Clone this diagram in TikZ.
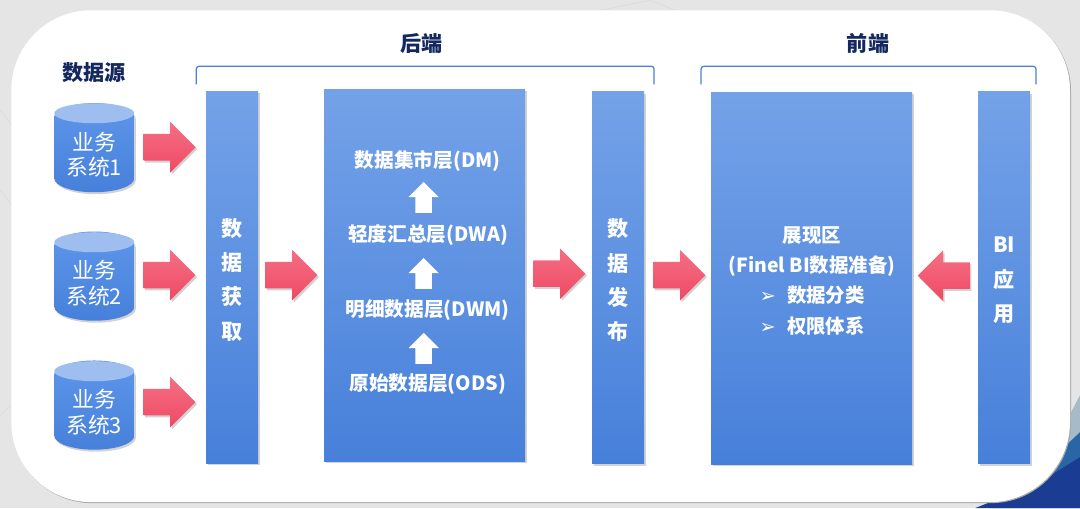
\documentclass[tikz,border=0pt]{standalone}
\usepackage{fontspec}
\usepackage{xcolor}
\usepackage{tikz}
\usetikzlibrary{shapes.geometric,shapes.arrows,shadows}
\setmainfont{Noto Sans CJK SC}
\newfontfamily\dingfont{DejaVu Sans}

\definecolor{boxtop}{HTML}{74A2E8}
\definecolor{boxmid}{HTML}{5D96EA}
\definecolor{boxlow}{HTML}{4780DA}
\definecolor{arrowtop}{HTML}{F56F85}
\definecolor{arrowlow}{HTML}{EE4A63}
\definecolor{navy}{HTML}{14285F}
\definecolor{bracket}{HTML}{4A7FDC}
\definecolor{cornerlight}{HTML}{A5BBC8}
\definecolor{cornermid}{HTML}{2A66A6}
\definecolor{cornerdark}{HTML}{1A3C92}

\tikzset{
  softshadow/.style={drop shadow={shadow xshift=0.4mm,shadow yshift=-0.5mm,opacity=0.35}},
  bluebox/.style={rectangle,top color=boxtop,middle color=boxmid,bottom color=boxlow,softshadow,
    minimum height=9.3cm,inner sep=0pt},
  narrowbox/.style={bluebox,minimum width=1.3cm},
  widebox/.style={bluebox,minimum width=5.025cm},
  pinkarrow/.style={single arrow,top color=arrowtop,bottom color=arrowlow,softshadow,
    minimum height=1.3cm,minimum width=1.25cm,inner sep=0.325cm,
    single arrow head extend=0.3cm,anchor=tail},
  whitearrow/.style={single arrow,fill=white,shape border rotate=90,
    minimum height=0.775cm,minimum width=0.75cm,inner sep=0.2cm,
    single arrow head extend=0.175cm,anchor=tail},
  database/.style={cylinder,shape border rotate=90,aspect=0.5,minimum width=2cm,minimum height=2.23cm,
    top color=boxmid,bottom color=boxlow,softshadow,inner sep=0pt,text=white,align=center,
    font=\fontsize{15.5}{18}\selectfont},
  columntext/.style={text=white,align=center,font=\fontsize{15}{24.5}\selectfont\bfseries},
  layertext/.style={text=white,font=\fontsize{14}{17}\selectfont\bfseries},
  headtext/.style={text=navy,font=\fontsize{15}{18}\selectfont\bfseries}
}

\begin{document}
\begin{tikzpicture}[x=0.025cm,y=-0.025cm]
% background and card
\fill[black!10] (0,0) rectangle (1080,508);
\draw[black!15] (0,110) -- (32,150);
\draw[black!15] (0,190) -- (12,205);
\draw[black!15] (600,10) -- (650,0) -- (675,10);
\draw[black!15] (0,415) -- (11,405);
\fill[cornerlight] (1030,490) -- (1080,395) -- (1080,450) -- cycle;
\fill[cornermid] (990,508) -- (1040,470) -- (1080,432) -- (1080,508) -- cycle;
\fill[cornerdark] (975,508) -- (1040,482) -- (1080,457) -- (1080,508) -- cycle;
\fill[black!35,rounded corners=2.0cm] (12,11) rectangle (1071,503);
\fill[white,rounded corners=2.0cm] (11,10) rectangle (1070,502);

\node[headtext] (source) at (94,72) {数据源};
\node[headtext] (backend) at (421,43) {后端};
\node[headtext] (frontend) at (868,43) {前端};

\draw[bracket,line width=0.9pt,rounded corners=2pt] (196,84) -- (196,66) -- (654,66) -- (654,84);
\draw[bracket,line width=0.9pt,rounded corners=2pt] (701,84) -- (701,66) -- (1036,66) -- (1036,84);

% data sources
\node[database] (sys1) at (94,154.5) {业务\\系统1};
\fill[boxtop!70!white] (94,113) ellipse (40 and 10);
\node[database] (sys2) at (94,283) {业务\\系统2};
\fill[boxtop!70!white] (94,242) ellipse (40 and 10);
\node[database] (sys3) at (94,412) {业务\\系统3};
\fill[boxtop!70!white] (94,371) ellipse (40 and 10);

% columns
\node[narrowbox] (fetch) at (232,277) {};
\node[widebox] (layers) at (424.5,275) {};
\node[narrowbox] (publish) at (618,277.5) {};
\node[widebox] (show) at (811.5,278) {};
\node[narrowbox] (app) at (1004,277.5) {};

\node[columntext] (fetchtext) at (232,279.5) {数\\据\\获\\取};
\node[columntext] (publishtext) at (618,280) {数\\据\\发\\布};
\node[columntext] (apptext) at (1004,280) {BI\\应\\用};

\node[layertext] (dm) at (427.5,160.5) {数据集市层(DM)};
\node[layertext] (dwa) at (428,234.5) {轻度汇总层(DWA)};
\node[layertext] (dwm) at (427.5,309.5) {明细数据层(DWM)};
\node[layertext] (ods) at (427.5,384) {原始数据层(ODS)};

\node[layertext,align=center,font=\fontsize{13.8}{21.5}\selectfont\bfseries] (showtext) at (812,280.5)
  {展现区\\(Finel BI数据准备)\\{\dingfont ➢}\hspace{8pt}数据分类\\{\dingfont ➢}\hspace{8pt}权限体系};

% block arrows
\node[pinkarrow] (a1) at (143,147) {};
\node[pinkarrow] (a2) at (143,275) {};
\node[pinkarrow] (a3) at (143,402) {};
\node[pinkarrow] (a4) at (265,275) {};
\node[pinkarrow] (a5) at (533,273.5) {};
\node[pinkarrow] (a6) at (653,275) {};
\node[pinkarrow,shape border rotate=180] (a7) at (970,275.5) {};

\node[whitearrow] (up1) at (423.5,213) {};
\node[whitearrow] (up2) at (423.5,289) {};
\node[whitearrow] (up3) at (423.5,364) {};
\end{tikzpicture}
\end{document}
